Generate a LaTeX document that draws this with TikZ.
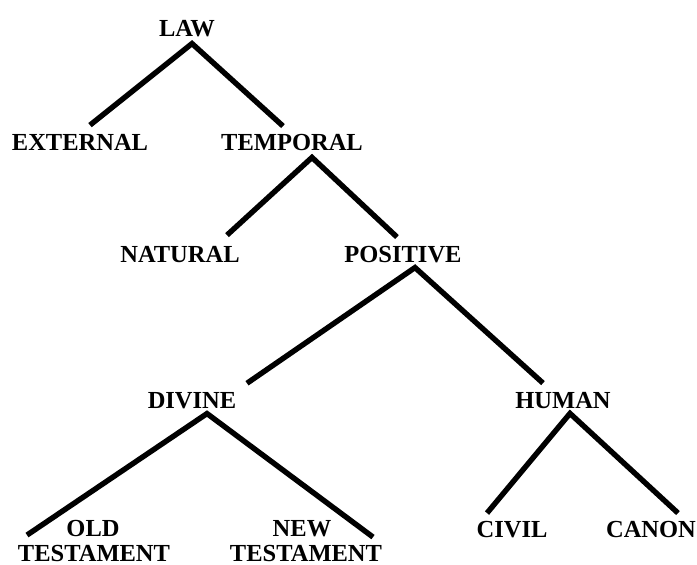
\documentclass[tikz,border=0pt]{standalone}
\usepackage{fontspec}
\setmainfont{Liberation Serif}
\usepackage{tikz}
\tikzset{
  tree/.style={x=1pt,y=-1pt,line join=miter},
  term/.style={anchor=base,inner sep=0pt,font=\bfseries\fontsize{24.5}{28}\selectfont},
  branch/.style={line width=5.4pt,line cap=butt,black}
}

\begin{document}
\begin{tikzpicture}[tree]
  \useasboundingbox (0,0) rectangle (697,565);
  % labels
  \node[term] (law) at (187,36) {LAW};
  \node[term] (ext) at (80,150) {EXTERNAL};
  \node[term] (temp) at (292,150) {TEMPORAL};
  \node[term] (nat) at (180,262) {NATURAL};
  \node[term] (pos) at (403,262) {POSITIVE};
  \node[term] (div) at (192,408) {DIVINE};
  \node[term] (hum) at (563,408) {HUMAN};
  \node[term] (old) at (93,536) {OLD};
  \node[term] (oldt) at (94,561) {TESTAMENT};
  \node[term] (new) at (302,536) {NEW};
  \node[term] (newt) at (306,561) {TESTAMENT};
  \node[term] (civ) at (512,537) {CIVIL};
  \node[term] (can) at (651,537) {CANON};
  % branches
  \draw[branch] ([xshift=10pt,yshift=8.5pt]ext.north) -- ([xshift=5pt,yshift=-7pt]law.south) -- ([xshift=-9pt,yshift=7.5pt]temp.north);
  \draw[branch] ([xshift=47pt,yshift=10.5pt]nat.north) -- ([xshift=20pt,yshift=-7pt]temp.south) -- ([xshift=-6pt,yshift=8.5pt]pos.north);
  \draw[branch] ([xshift=55pt,yshift=8.5pt]div.north) -- ([xshift=12pt,yshift=-5pt]pos.south) -- ([xshift=-20pt,yshift=8.5pt]hum.north);
  \draw[branch] ([xshift=-67pt,yshift=9.5pt]oldt.north) -- ([xshift=15pt,yshift=-5pt]div.south) -- ([xshift=67pt,yshift=7.5pt]newt.north);
  \draw[branch] ([xshift=-25pt,yshift=7.5pt]civ.north) -- ([xshift=7pt,yshift=-5pt]hum.south) -- ([xshift=27pt,yshift=7.5pt]can.north);
\end{tikzpicture}
\end{document}
